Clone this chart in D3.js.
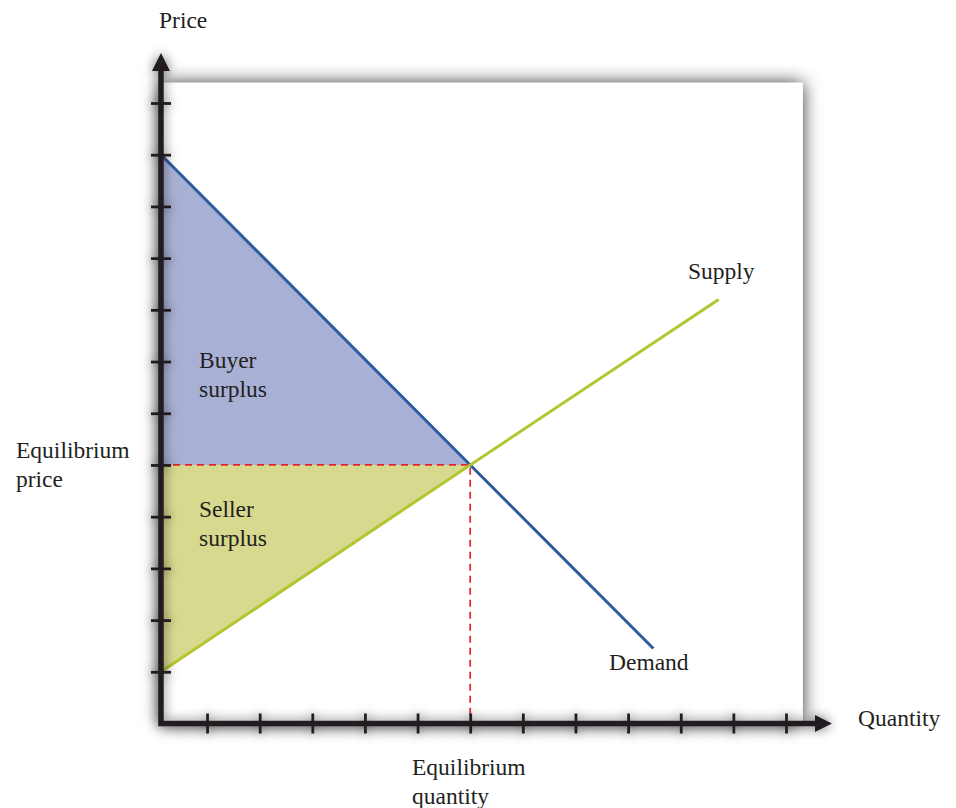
<!DOCTYPE html>
<html>
<head>
<meta charset="utf-8">
<script src="https://cdn.jsdelivr.net/npm/d3@7"></script>
<style>
  body { margin: 0; background: #fff; }
  text { font-family: "Liberation Serif", "DejaVu Serif", serif; font-size: 23.5px; fill: #231f20; }
</style>
</head>
<body>
<svg width="956" height="808"></svg>
<script>
// quantity / price tick positions
const xTicks = [1, 2, 3, 4, 5, 6, 7, 8, 9, 10, 11, 12];
const yTicks = [1, 2, 3, 4, 5, 6, 7, 8, 9, 10, 11, 12];

// curves (quantity, price)
const originQ = 0.125;
const demandQ = [originQ, 6, 9.48];
const demandP = [11, 5, 1.45];
const supplyQ = [originQ, 6, 10.72];
const supplyP = [1, 5, 8.2];

const eqQ = 6;
const eqP = 5;

const svg = d3.select("svg");

const x = d3.scaleLinear().domain([0, 12]).range([154.4, 786]);
const y = d3.scaleLinear().domain([0, 12]).range([723.5, 103]);

const panelQmax = 12.32;
const panelPmax = 12.39;

// drop shadows for panel and axes
const defs = svg.append("defs");
const shadow = (id, sd, op) => {
    defs.append("filter").attr("id", id)
        .attr("x", "-20%").attr("y", "-20%").attr("width", "140%").attr("height", "140%")
        .append("feDropShadow")
        .attr("dx", 0).attr("dy", 0)
        .attr("stdDeviation", sd)
        .attr("flood-color", "#000")
        .attr("flood-opacity", op);
};
shadow("shadow", 9, 0.8);
shadow("axshadow", 6, 0.6);

// white panel
svg.append("rect")
    .attr("x", x(originQ))
    .attr("y", y(panelPmax))
    .attr("width", x(panelQmax) - x(originQ))
    .attr("height", y(0) - y(panelPmax))
    .attr("fill", "#fff")
    .attr("filter", "url(#shadow)");

const pt = (q, p) => [x(q), y(p)];

// surplus areas
svg.append("path")
    .attr("d", d3.line()([pt(originQ, demandP[0]), pt(eqQ, eqP), pt(originQ, eqP)]) + "Z")
    .attr("fill", "#a9b0d5");
svg.append("path")
    .attr("d", d3.line()([pt(originQ, eqP), pt(eqQ, eqP), pt(originQ, supplyP[0])]) + "Z")
    .attr("fill", "#d7da8e");

// equilibrium guides
svg.append("path")
    .attr("d", d3.line()([pt(originQ, eqP), pt(eqQ, eqP), pt(eqQ, 0)]))
    .attr("fill", "none")
    .attr("stroke", "#e3242b")
    .attr("stroke-width", 1.7)
    .attr("stroke-dasharray", "7,5");

// curves
const line = d3.line().x(d => x(d[0])).y(d => y(d[1]));
svg.append("path")
    .attr("d", line(demandQ.map((q, i) => [q, demandP[i]])))
    .attr("fill", "none").attr("stroke", "#2d5b9e").attr("stroke-width", 3);
svg.append("path")
    .attr("d", line(supplyQ.map((q, i) => [q, supplyP[i]])))
    .attr("fill", "none").attr("stroke", "#b3c530").attr("stroke-width", 3);

// axes
const axes = svg.append("g").attr("filter", "url(#axshadow)");
const ox = x(originQ), oy = y(0);

axes.append("path")
    .attr("d", `M${ox},${oy + 2.75}V68 M${ox - 2.75},${oy}H818`)
    .attr("stroke", "#231f20").attr("stroke-width", 5.5).attr("fill", "none");
// arrow heads
axes.append("path")
    .attr("d", `M${ox},53 L${ox + 9},71 L${ox - 9},71Z M832,${oy} L815,${oy - 8.5} L815,${oy + 8.5}Z`)
    .attr("fill", "#231f20");

const yAxis = axes.append("g")
    .attr("transform", `translate(${ox + 10},0)`)
    .call(d3.axisLeft(y).tickValues(yTicks).tickSize(20).tickFormat(""));
const xAxis = axes.append("g")
    .attr("transform", `translate(0,${oy - 10})`)
    .call(d3.axisBottom(x).tickValues(xTicks).tickSize(20).tickFormat(""));
[yAxis, xAxis].forEach(a => {
    a.select(".domain").remove();
    a.selectAll(".tick line").attr("stroke", "#231f20").attr("stroke-width", 2.8);
});

// labels
const label = (tx, ty, lines) => {
    const t = svg.append("text").attr("x", tx).attr("y", ty);
    lines.forEach((s, i) => t.append("tspan").attr("x", tx).attr("dy", i ? 29 : 0).text(s));
};
label(159, 28, ["Price"]);
label(858, 726, ["Quantity"]);
label(16, 458, ["Equilibrium", "price"]);
label(412, 775, ["Equilibrium", "quantity"]);
label(199, 368, ["Buyer", "surplus"]);
label(199, 517, ["Seller", "surplus"]);
label(688, 279, ["Supply"]);
label(609, 670, ["Demand"]);
</script>
</body>
</html>
